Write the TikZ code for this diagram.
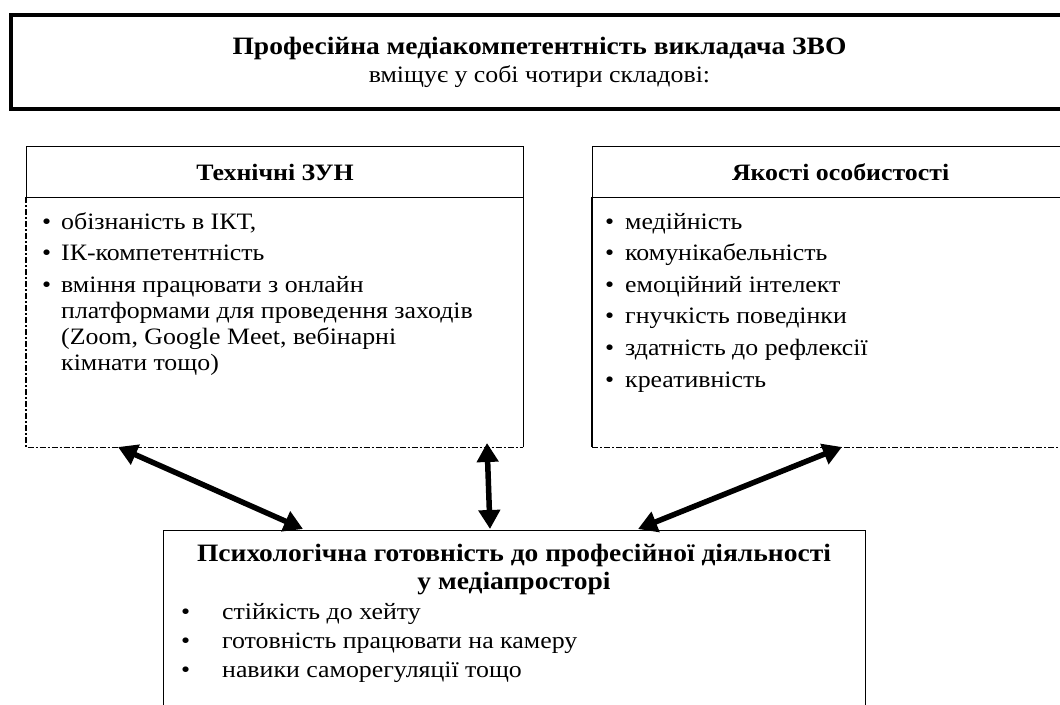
\documentclass[tikz,border=0pt]{standalone}
\usepackage{fontspec}
\setmainfont{Liberation Serif}[FakeStretch=1.1]
\usetikzlibrary{arrows.meta}

\def\fs{\fontsize{23.5}{26}\selectfont}
\def\fh{\fontsize{25}{28}\selectfont}
\def\rowgap{31.6}

\tikzset{
  box/.style={draw, line width=1.2pt, anchor=north west, inner sep=0pt},
  head/.style={box, font=\fs\bfseries},
  item/.style={anchor=base west, inner sep=0pt},
  dashdot/.style={line width=1.2pt, dash pattern=on 6pt off 2pt on 2pt off 2pt},
  link/.style={line width=5.5pt, {Triangle[length=19pt,width=21pt]}-{Triangle[length=19pt,width=21pt]}},
}

\begin{document}
\begin{tikzpicture}[x=1pt,y=-1pt,font=\fs]
 \useasboundingbox[fill=white] (0,0) rectangle (1060,704);
 % Top frame
 \node[box, line width=4pt, minimum width=1057pt, minimum height=94pt, align=center]
  (top) at (9,13) {{\fh\bfseries Професійна медіакомпетентність викладача ЗВО}\\[2pt]
  вміщує у собі чотири складові:};
 % Left block
 \node[head, minimum width=497pt, minimum height=51pt] (tzh) at (26,146) {Технічні ЗУН};
 \node[anchor=north west, inner sep=0pt, minimum width=497pt, minimum height=250pt] (tzb) at (26,197) {};
 \draw[dashdot] (tzb.north west) -- (tzb.south west) -- (tzb.south east);
 \draw[line width=1.2pt] (tzb.south east) -- (tzb.north east);
 \node[item] (tz1) at (42,229) {\makebox[19pt][l]{•}обізнаність в ІКТ,};
 \node[item] (tz2) at (42,260.6) {\makebox[19pt][l]{•}ІК-компетентність};
 \node[item] (tz3) at (42,292.2) {\makebox[19pt][l]{•}\parbox[t]{440pt}{вміння працювати з онлайн\\
  платформами для проведення заходів\\(Zoom, Google Meet, вебінарні\\кімнати тощо)}};
 % Right block
 \node[head, minimum width=496pt, minimum height=51pt] (ooh) at (592,146) {Якості особистості};
 \node[anchor=north west, inner sep=0pt, minimum width=496pt, minimum height=250pt] (oob) at (592,197) {};
 \draw[line width=1.2pt] (oob.north west) -- (oob.south west);
 \draw[dashdot] (oob.south west) -- (oob.south east);
 \foreach \t [count=\i] in {медійність,комунікабельність,емоційний інтелект,
   гнучкість поведінки,здатність до рефлексії,креативність}
  \node[item] (oo\i) at (605,229+\rowgap*\i-\rowgap) {\makebox[20pt][l]{•}\t};
 % Bottom block
 \node[box, minimum width=702pt, minimum height=200pt] (psy) at (163,530) {};
 \node[font=\fh\bfseries, align=center, inner sep=0pt] (psyt) at (514,570)
  {Психологічна готовність до професійної діяльності\\у медіапросторі};
 \foreach \t [count=\i] in {стійкість до хейту,готовність працювати на камеру,
   навики саморегуляції тощо}
  \node[item] (ps\i) at (181,590+29*\i) {\makebox[41pt][l]{•}\t};
 % Links
 \coordinate (tzA) at (118,447);
 \coordinate (tzB) at (487,443);
 \coordinate (ooA) at (842,447);
 \coordinate (psA) at (303,529);
 \coordinate (psB) at (490,529);
 \coordinate (psC) at (638,529);
 \draw[link] (tzA) -- (psA);
 \draw[link] (tzB) -- (psB);
 \draw[link] (ooA) -- (psC);
\end{tikzpicture}
\end{document}
